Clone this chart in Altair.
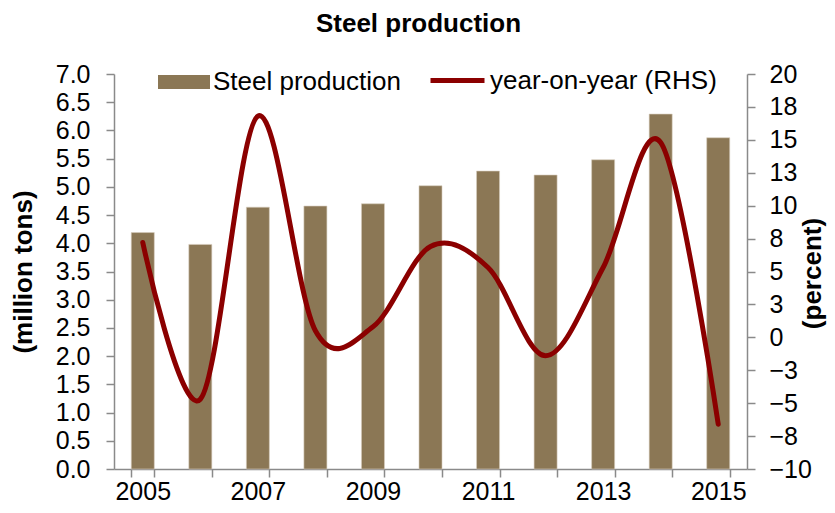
import altair as alt
import pandas as pd

years = ["2005", "2006", "2007", "2008", "2009", "2010", "2011", "2012", "2013", "2014", "2015"]
steel = [4.19, 3.98, 4.64, 4.66, 4.70, 5.02, 5.28, 5.21, 5.48, 6.29, 5.87]
yoy = [7.2, -4.7, 16.8, 0.5, 0.8, 6.9, 5.3, -1.4, 5.3, 14.8, -6.6]
left_ticks = [0.0, 0.5, 1.0, 1.5, 2.0, 2.5, 3.0, 3.5, 4.0, 4.5, 5.0, 5.5, 6.0, 6.5, 7.0]
right_ticks = [-10, -7.5, -5, -2.5, 0, 2.5, 5, 7.5, 10, 12.5, 15, 17.5, 20]

df = pd.DataFrame({
    "year": years,
    "steel": steel,
    "yoy": yoy,
    "s1": "Steel production",
    "s2": "year-on-year (RHS)",
})

FONT = "Liberation Sans"
BAR = "#8B7755"
LINE = "#8B0000"

xscale = alt.Scale(paddingInner=0.6, paddingOuter=0.3)
xaxis = alt.Axis(
    title=None, labelAngle=0, tickBand="extent", labelOverlap=False,
    labelExpr="parseInt(datum.value) % 2 == 1 ? datum.label : ''",
    labelPadding=2, labelBaseline="top",
)

bars = alt.Chart(df).mark_bar(color=BAR, stroke="#d8cfc0", strokeWidth=0.6).encode(
    x=alt.X("year:O", scale=xscale, axis=xaxis),
    y=alt.Y("steel:Q", scale=alt.Scale(domain=[0, 7], nice=False, zero=True),
            axis=alt.Axis(values=left_ticks, format=".1f", title="(million tons)",
                          labelPadding=16, titleX=-91, titleY=197.5, titleAngle=-90,
                          titleAlign="center", titleBaseline="middle")),
    color=alt.Color("s1:N", scale=alt.Scale(range=[BAR]),
                    legend=alt.Legend(title=None, orient="none", legendX=44, legendY=-18,
                                      symbolType="M-1,-0.27H1V0.27H-1Z", symbolSize=2704,
                                      symbolStrokeWidth=0, labelOffset=3, padding=0,
                                      labelLimit=0)),
)

line = alt.Chart(df).mark_line(interpolate="cardinal", strokeWidth=5, strokeCap="round").encode(
    x=alt.X("year:O", scale=xscale, axis=xaxis),
    y=alt.Y("yoy:Q", scale=alt.Scale(domain=[-10, 20], nice=False, zero=False),
            axis=alt.Axis(orient="right", values=right_ticks, format=".0f", title="(percent)",
                          labelPadding=14, titleX=65, titleY=199, titleAngle=-90,
                          titleAlign="center", titleBaseline="middle")),
    stroke=alt.Stroke("s2:N", scale=alt.Scale(range=[LINE]),
                      legend=alt.Legend(title=None, orient="none", legendX=314, legendY=-23,
                                        symbolType="stroke", symbolSize=2916,
                                        symbolStrokeWidth=5, labelOffset=3, padding=0,
                                        labelLimit=0)),
)

chart = alt.layer(bars, line).resolve_scale(y="independent", color="independent", stroke="independent").properties(
    width=633,
    height=395,
    autosize=alt.AutoSizeParams(type="none"),
    padding={"left": 106, "top": 66, "right": 80, "bottom": 36},
    title=alt.Title("Steel production", font=FONT, fontSize=26, fontWeight="bold",
                    color="black", anchor="middle", offset=14, dx=-12),
).configure_view(stroke=None).configure_axis(
    labelFont=FONT, labelFontSize=25, labelColor="black",
    titleFont=FONT, titleFontSize=26, titleFontWeight="bold", titleColor="black",
    domainColor="#8a8a8a", domainWidth=1.5, tickColor="#8a8a8a", tickWidth=1.5,
    tickSize=8, grid=False,
).configure_legend(
    labelFont=FONT, labelFontSize=26, labelColor="black",
)

chart.save("out.html", embed_options={"renderer": "svg", "actions": False})
